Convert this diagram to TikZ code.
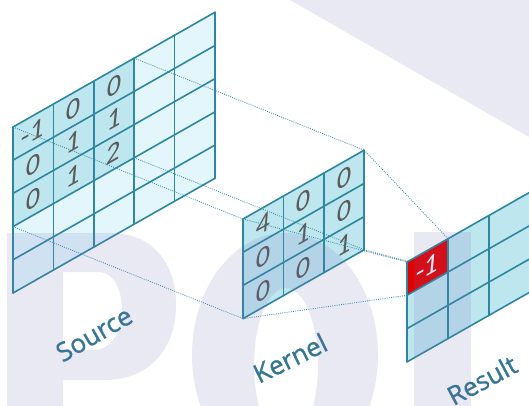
\documentclass[tikz,border=0pt]{standalone}
\usepackage{fontspec}
\newfontfamily\digfont{Carlito}
\newfontfamily\labfont[FakeBold=1]{Open Sans}
\definecolor{gl}{RGB}{45,135,160}
\definecolor{cellA}{RGB}{226,246,251}
\definecolor{cellB}{RGB}{190,230,239}
\definecolor{cellred}{RGB}{228,0,0}
\definecolor{digcol}{RGB}{90,90,90}
\definecolor{labcol}{RGB}{52,118,148}
\definecolor{wm}{RGB}{110,110,185}
\tikzset{
  gridln/.style={draw=gl, line width=1.6pt, line cap=round},
  dig/.style={font=\digfont\fontsize{28}{28}\selectfont, text=digcol, inner sep=0pt, transform shape, xslant=0.1},
  lab/.style={font=\labfont\fontsize{26}{26}\selectfont, text=labcol, inner sep=0pt},
  conn/.style={draw=gl, line width=0.8pt, dash pattern=on 0.9pt off 1.3pt},
  wmark/.style={fill=wm, fill opacity=0.15, draw=none},
}
\begin{document}
\begin{tikzpicture}[x=1pt,y=-1pt]
\useasboundingbox (0,0) rectangle (529,405);
\clip (0,0) rectangle (529,405);
\fill[white] (0,0) rectangle (529,405);

% ---------- Source 5x5 ----------
\begin{scope}[shift={(13,127)}, yslant=0.568]
  \fill[cellA] (0,0) rectangle (202,166);
  \fill[cellB] (0,0) rectangle (121.2,99.6);
  \foreach \k in {0,...,5} {
    \draw[gridln] (\k*40.4,0) -- (\k*40.4,166);
    \draw[gridln] (0,\k*33.2) -- (202,\k*33.2);
  }
  \foreach \r/\c/\v in {0/0/-1,0/1/0,0/2/0,1/0/0,1/1/1,1/2/1,2/0/0,2/1/1,2/2/2}
    \node[dig] (s\r\c) at ({(\c+0.5)*40.4},{(\r+0.5)*33.2}) {\v};
  \coordinate (sTL) at (0,0);
  \coordinate (sTR) at (121.2,0);
  \coordinate (sBL) at (0,99.6);
  \coordinate (sBR) at (121.2,99.6);
\end{scope}

% ---------- Kernel 3x3 ----------
\begin{scope}[shift={(243,219)}, yslant=0.568]
  \fill[cellB] (0,0) rectangle (121.2,99.6);
  \foreach \k in {0,...,3} {
    \draw[gridln] (\k*40.4,0) -- (\k*40.4,99.6);
    \draw[gridln] (0,\k*33.2) -- (121.2,\k*33.2);
  }
  \foreach \r/\c/\v in {0/0/4,0/1/0,0/2/0,1/0/0,1/1/1,1/2/0,2/0/0,2/1/0,2/2/1}
    \node[dig] (k\r\c) at ({(\c+0.5)*40.4},{(\r+0.5)*33.2}) {\v};
  \coordinate (kTL) at (0,0);
  \coordinate (kTR) at (121.2,0);
  \coordinate (kBL) at (0,99.6);
  \coordinate (kBR) at (121.2,99.6);
\end{scope}

% ---------- connectors ----------
\draw[conn] (sTL) -- (kTL);
\draw[conn] (sTR) -- (kTR);
\draw[conn] (sBL) -- (kBL);
\draw[conn] (sBR) -- (kBR);

\begin{scope}[shift={(407,262)}, yslant=0.568]
  \coordinate (rTL) at (0,0);
  \coordinate (rTR) at (41,0);
  \coordinate (rBL) at (0,33.3);
  \coordinate (rBR) at (41,33.3);
\end{scope}
\draw[conn] (kTL) -- (rTL);
\draw[conn] (kTR) -- (rTR);
\draw[conn] (kBL) -- (rBL);
\draw[conn] (kBR) -- (rBR);

% ---------- Result ----------
\begin{scope}[shift={(407,262)}, yslant=0.568]
  \fill[cellB] (0,0) rectangle (123,99.9);
  \fill[cellred] (0,0) rectangle (41,33.3);
  \foreach \k in {0,...,3} {
    \draw[gridln] (\k*41,0) -- (\k*41,99.9);
    \draw[gridln] (0,\k*33.3) -- (123,\k*33.3);
  }
  \node[dig, text=white] (r00) at (20.5,16.65) {-1};
\end{scope}

% ---------- labels ----------
\node[lab, rotate=30] (lsrc) at (94,334) {Source};
\node[lab, rotate=26] (lker) at (290,358) {Kernel};
\node[lab, rotate=28] (lres) at (482,380) {Result};

% ---------- watermark ----------
\path[wmark, even odd rule]
  (7,410) -- (7,233) -- (110,233)
  .. controls (152,233) and (176,262) .. (176,305)
  .. controls (176,350) and (148,380) .. (105,380) -- (63,380) -- (63,410) -- cycle
  (63,272) -- (98,272)
  .. controls (114,272) and (122,290) .. (122,310)
  .. controls (122,332) and (111,350) .. (94,350) -- (63,350) -- cycle;
\path[wmark, even odd rule]
  (285,355) ellipse [x radius=93, y radius=122]
  (286,365) ellipse [x radius=32, y radius=77];
\path[wmark] (414,232) rectangle (471,410);
\path[wmark] (290,0) -- (529,0) -- (529,137) -- cycle;
\end{tikzpicture}
\end{document}
